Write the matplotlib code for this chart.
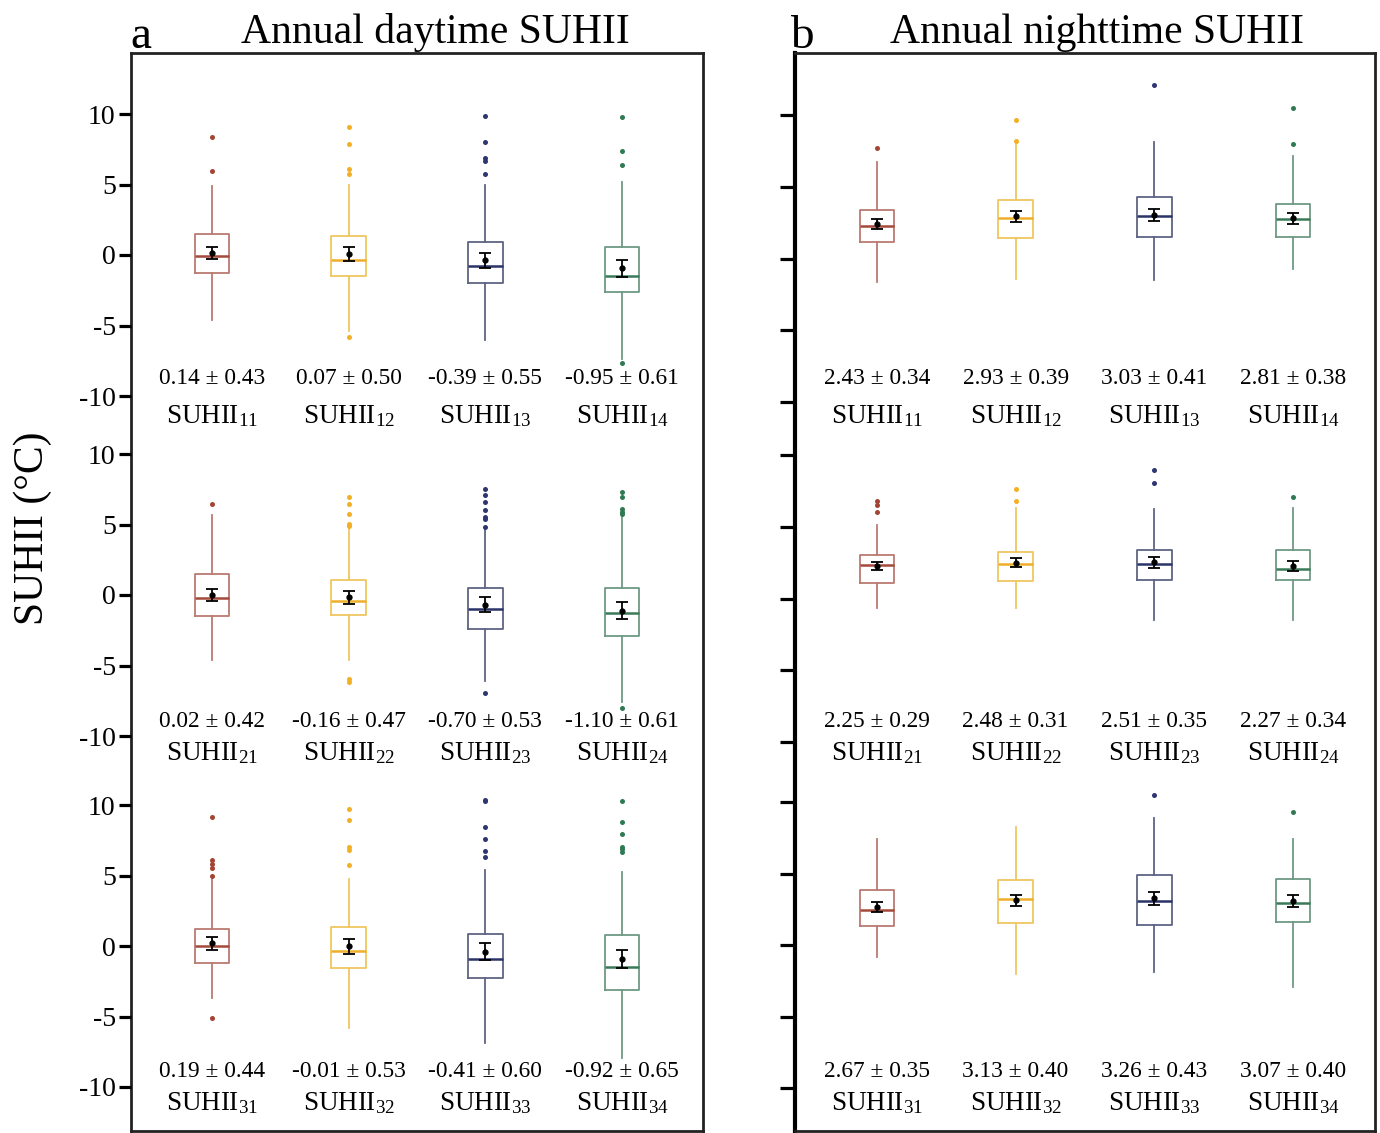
import matplotlib
matplotlib.use('Agg')
import matplotlib.pyplot as plt
from matplotlib.transforms import blended_transform_factory

plt.rcParams['font.family'] = ['Liberation Serif', 'DejaVu Serif']
plt.rcParams['mathtext.fontset'] = 'custom'
plt.rcParams['mathtext.rm'] = 'Liberation Serif'
plt.rcParams['mathtext.it'] = 'Liberation Serif:italic'
plt.rcParams['mathtext.bf'] = 'Liberation Serif:bold'

# ---------------- data ----------------
group_ids = [["11", "12", "13", "14"], ["21", "22", "23", "24"], ["31", "32", "33", "34"]]
yticks = [-10, -5, 0, 5, 10]

# daytime
day_mean = [[0.14, 0.07, -0.39, -0.95], [0.02, -0.16, -0.70, -1.10], [0.19, -0.01, -0.41, -0.92]]
day_err = [[0.43, 0.50, 0.55, 0.61], [0.42, 0.47, 0.53, 0.61], [0.44, 0.53, 0.60, 0.65]]
day_whislo = [[-4.6, -5.4, -6.0, -7.4], [-4.63, -4.63, -6.1, -7.6], [-3.66, -5.79, -6.86, -7.92]]
day_q1 = [[-1.25, -1.51, -2.0, -2.65], [-1.49, -1.44, -2.39, -2.91], [-1.2, -1.58, -2.27, -3.1]]
day_med = [[-0.05, -0.33, -0.8, -1.49], [-0.21, -0.43, -1.02, -1.3], [0.02, -0.33, -0.9, -1.51]]
day_q3 = [[1.49, 1.32, 0.9, 0.57], [1.47, 1.04, 0.47, 0.52], [1.2, 1.32, 0.85, 0.78]]
day_whishi = [[4.9, 4.94, 4.94, 5.2], [5.67, 4.66, 4.59, 5.6], [4.73, 4.73, 5.39, 5.27]]
day_fliers = [
    [[8.4, 5.95], [9.1, 7.9, 6.08, 5.72, -5.8], [9.86, 8.0, 6.86, 6.67, 5.77], [9.79, 7.35, 6.4, -7.68]],
    [[6.43], [6.95, 6.43, 5.72, 5.06, 4.89, -5.98, -6.15],
     [7.5, 7.07, 6.62, 6.0, 5.53, 5.37, 4.85, -6.97], [7.33, 6.95, 6.08, 5.91, 5.72, -7.99]],
    [[9.13, 6.08, 5.79, 5.51, 4.96, -5.13], [9.74, 8.91, 7.0, 6.81, 5.74],
     [10.35, 10.28, 8.46, 7.57, 6.76, 6.33], [10.31, 8.82, 7.92, 7.04, 6.86, 6.69]],
]

# nighttime
night_mean = [[2.43, 2.93, 3.03, 2.81], [2.25, 2.48, 2.51, 2.27], [2.67, 3.13, 3.26, 3.07]]
night_err = [[0.34, 0.39, 0.41, 0.38], [0.29, 0.31, 0.35, 0.34], [0.35, 0.40, 0.43, 0.40]]
night_whislo = [[-1.63, -1.44, -1.49, -0.75], [-0.64, -0.69, -1.5, -1.5], [-0.82, -2.0, -1.89, -2.94]]
night_q1 = [[1.14, 1.42, 1.48, 1.48], [1.1, 1.22, 1.27, 1.27], [1.31, 1.52, 1.4, 1.59]]
night_med = [[2.25, 2.81, 2.95, 2.72], [2.33, 2.43, 2.38, 2.06], [2.47, 3.24, 3.08, 2.94]]
night_q3 = [[3.41, 4.09, 4.27, 3.81], [3.01, 3.24, 3.36, 3.36], [3.83, 4.55, 4.87, 4.59]]
night_whishi = [[6.71, 8.0, 8.1, 7.15], [5.12, 6.28, 6.21, 6.33], [7.39, 8.27, 8.86, 7.39]]
night_fliers = [
    [[7.67], [9.66, 8.18], [12.1], [10.5, 7.99]],
    [[6.82, 6.52, 6.05], [7.61, 6.77], [8.95, 8.07], [7.09]],
    [[], [], [10.47], [9.3]],
]

titles = ["Annual daytime SUHII", "Annual nighttime SUHII"]
panel_letters = ["a", "b"]

# ---------------- styles ----------------
box_colors = ["#b97b70", "#f0c661", "#5e6584", "#6d9a84"]
med_colors = ["#a5493b", "#eeae2a", "#2b3468", "#3b7a59"]
flier_colors = ["#a34434", "#f2b024", "#2d3670", "#2f7a52"]

W, H = 1380, 1133
fig = plt.figure(figsize=(W / 100, H / 100), dpi=100)

row_bounds = [(53, 435), (435, 780), (780, 1131)]
panels = [
    dict(x0=131, x1=703, tickpx=[(114, 396), (454, 736), (805, 1087)], labels=True,
         mean=day_mean, err=day_err, wlo=day_whislo, q1=day_q1, med=day_med, q3=day_q3,
         whi=day_whishi, fl=day_fliers),
    dict(x0=795, x1=1375, tickpx=[(115, 402), (455, 742), (802, 1088)], labels=False,
         mean=night_mean, err=night_err, wlo=night_whislo, q1=night_q1, med=night_med, q3=night_q3,
         whi=night_whishi, fl=night_fliers),
]
stat_base = [384, 727, 1077]
label_base = [423, 760, 1110]
positions = [1, 2, 3, 4]

for pi, P in enumerate(panels):
    x0, x1 = P["x0"], P["x1"]
    # frame
    fr = fig.add_axes([x0 / W, 1 - 1131 / H, (x1 - x0) / W, (1131 - 53) / H])
    fr.set_xticks([]); fr.set_yticks([])
    fr.patch.set_alpha(0)
    for s in fr.spines.values():
        s.set_linewidth(2.0)
        s.set_color("#222222")
    if pi == 1:
        fr.spines["left"].set_linewidth(3.0)
        fr.spines["left"].set_color("black")

    for r in range(3):
        T, B = row_bounds[r]
        a, b = P["tickpx"][r]
        s = (b - a) / 20.0
        ymax = 10 + (a - T) / s
        ymin = -10 - (B - b) / s
        ax = fig.add_axes([x0 / W, 1 - B / H, (x1 - x0) / W, (B - T) / H])
        ax.patch.set_alpha(0)
        for sp in ax.spines.values():
            sp.set_visible(False)

        for i in range(4):
            st = dict(med=P["med"][r][i], q1=P["q1"][r][i], q3=P["q3"][r][i],
                      whislo=P["wlo"][r][i], whishi=P["whi"][r][i], fliers=P["fl"][r][i])
            ax.bxp([st], positions=[positions[i]], widths=0.25, showcaps=False,
                   showfliers=True, manage_ticks=False,
                   boxprops=dict(color=box_colors[i], linewidth=1.3),
                   whiskerprops=dict(color=box_colors[i], linewidth=1.3),
                   medianprops=dict(color=med_colors[i], linewidth=1.8),
                   flierprops=dict(marker="o", markersize=3.6, markerfacecolor=flier_colors[i],
                                   markeredgecolor="none"))
            ax.errorbar(positions[i], P["mean"][r][i], yerr=P["err"][r][i], fmt="o", color="black",
                        markersize=3.5, capsize=4.2, elinewidth=1.3, capthick=1.3, zorder=5)

        ax.set_ylim(ymin, ymax)
        ax.set_xlim(0.41, 4.59)
        ax.set_xticks([])
        ax.set_yticks(yticks)
        if P["labels"]:
            ax.set_yticklabels([str(t) for t in yticks])
            ax.tick_params(axis="y", direction="out", length=9, width=2.3, labelsize=20, pad=2)
        else:
            ax.set_yticklabels([])
            ax.tick_params(axis="y", direction="out", length=11, width=2.3)

        trans = blended_transform_factory(ax.transData, fig.transFigure)
        for i in range(4):
            m, e = P["mean"][r][i], P["err"][r][i]
            ax.text(positions[i], 1 - stat_base[r] / H, f"{m:.2f} ± {e:.2f}", transform=trans,
                    ha="center", va="baseline", fontsize=16.8)
            ax.text(positions[i], 1 - label_base[r] / H, "SUHII$_{\\mathrm{" + group_ids[r][i] + "}}$",
                    transform=trans, ha="center", va="baseline", fontsize=19.5)

fig.text(435 / W, 1 - 43 / H, titles[0], ha="center", va="baseline", fontsize=30)
fig.text(1097 / W, 1 - 43 / H, titles[1], ha="center", va="baseline", fontsize=30)
fig.text(130 / W, 1 - 48 / H, panel_letters[0], ha="left", va="baseline", fontsize=34)
fig.text(790 / W, 1 - 48 / H, panel_letters[1], ha="left", va="baseline", fontsize=34)
fig.text(33 / W, 1 - 528 / H, "SUHII (°C)", rotation=90, ha="center", va="center", fontsize=30)

fig.savefig("out.png", dpi=100)
